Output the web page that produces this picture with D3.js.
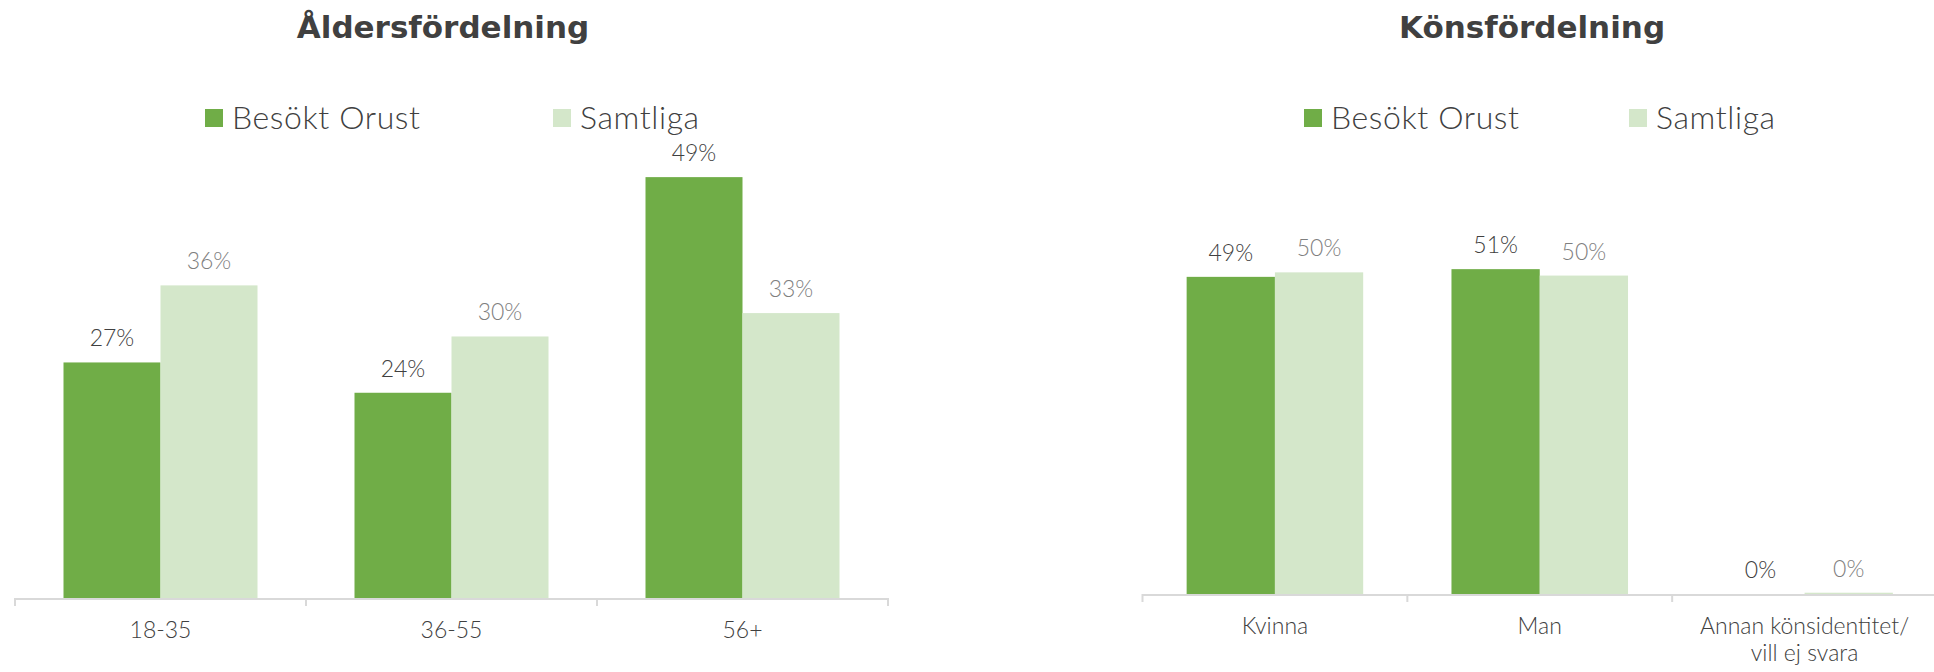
<!DOCTYPE html>
<html><head><meta charset="utf-8">
<script src="https://cdn.jsdelivr.net/npm/d3@7"></script>
<style>body{margin:0;background:#fff} svg{display:block}</style>
</head><body><svg id="c" width="1934" height="672"></svg>
<script>
// ---- data ----
const seriesNames = ["Besökt Orust", "Samtliga"];
const ageTitle = "Åldersfördelning";
const ageCategories = ["18-35", "36-55", "56+"];
const ageVisited = [0.272, 0.237, 0.486];
const ageAll = [0.361, 0.302, 0.329];
const genderTitle = "Könsfördelning";
const genderCategories = ["Kvinna", "Man", "Annan könsidentitet/\nvill ej svara"];
const genderVisited = [0.494, 0.506, 0.0];
const genderAll = [0.501, 0.496, 0.002];

// ---- styles ----
const barColors = ["#70ad47", "#d4e7ca"];
const labelColors = ["#404040", "#7f7f7f"];
const textColor = "#404040";
const axisColor = "#d9d9d9";
const fontMain = "Lato, 'Open Sans', sans-serif";
const fontTitle = "'DejaVu Sans', sans-serif";
const fmt = d3.format(".0%");

const svg = d3.select("#c");

function drawChart(cfg) {
  const g = svg.append("g");
  const x0 = d3.scaleBand().domain(cfg.categories).range(cfg.xRange).paddingInner(0).paddingOuter(0);
  const bw = x0.bandwidth();
  const x1 = d3.scaleBand().domain([0, 1]).range([bw / 6, bw * 5 / 6]).padding(0);
  const y = d3.scaleLinear().domain([0, 0.6]).range([cfg.baseline, cfg.baseline - 0.6 * cfg.pxPerUnit]);

  // title
  g.append("text").attr("x", cfg.titleX).attr("y", 38)
    .attr("text-anchor", "middle").attr("font-family", fontTitle)
    .attr("font-weight", "bold").attr("font-size", 31).attr("fill", textColor)
    .text(cfg.title);

  // legend
  seriesNames.forEach((name, i) => {
    const lx = cfg.legendX[i];
    g.append("rect").attr("x", lx).attr("y", 109).attr("width", 18).attr("height", 18).attr("fill", barColors[i]);
    g.append("text").attr("x", lx + 27).attr("y", 129)
      .attr("font-family", fontMain).attr("font-weight", 300).attr("font-size", 32)
      .attr("letter-spacing", 0.6).attr("fill", textColor).text(name);
  });

  const series = [cfg.visited, cfg.all];
  series.forEach((vals, si) => {
    const data = cfg.categories.map((c, i) => ({ c, v: vals[i] }));
    g.selectAll(null).data(data).enter().append("rect")
      .attr("x", d => x0(d.c) + x1(si))
      .attr("width", x1.bandwidth())
      .attr("y", d => y(d.v))
      .attr("height", d => y(0) - y(d.v))
      .attr("fill", barColors[si]);
    g.selectAll(null).data(data).enter().append("text")
      .attr("x", d => x0(d.c) + x1(si) + x1.bandwidth() / 2)
      .attr("y", d => y(d.v) - 16)
      .attr("text-anchor", "middle")
      .attr("font-family", fontMain).attr("font-weight", 300).attr("font-size", 23)
      .attr("fill", labelColors[si])
      .text(d => fmt(d.v));
  });

  // axis
  const xEnd = Math.min(cfg.xRange[1], 1934);
  g.append("line").attr("x1", cfg.xRange[0]).attr("x2", xEnd)
    .attr("y1", cfg.baseline + 1).attr("y2", cfg.baseline + 1)
    .attr("stroke", axisColor).attr("stroke-width", 2);
  const ticks = cfg.categories.map(c => x0(c)).concat([cfg.xRange[1]]).filter(t => t <= 1934);
  g.selectAll(null).data(ticks).enter().append("line")
    .attr("x1", d => d).attr("x2", d => d)
    .attr("y1", cfg.baseline).attr("y2", cfg.baseline + 8)
    .attr("stroke", axisColor).attr("stroke-width", 2);

  // category labels
  cfg.categories.forEach(c => {
    const lines = c.split("\n");
    const t = g.append("text").attr("text-anchor", "middle")
      .attr("font-family", fontMain).attr("font-weight", 300).attr("font-size", 23).attr("fill", textColor);
    lines.forEach((ln, k) => {
      t.append("tspan").attr("x", x0(c) + bw / 2).attr("y", cfg.baseline + 40 + k * 27).text(ln);
    });
  });
}

drawChart({
  title: ageTitle, categories: ageCategories, visited: ageVisited, all: ageAll,
  xRange: [15, 888], baseline: 598, pxPerUnit: 866, titleX: 443, legendX: [205, 553]
});
drawChart({
  title: genderTitle, categories: genderCategories, visited: genderVisited, all: genderAll,
  xRange: [1142.5, 1937], baseline: 594, pxPerUnit: 642, titleX: 1532, legendX: [1304, 1629]
});
</script>
</body></html>
